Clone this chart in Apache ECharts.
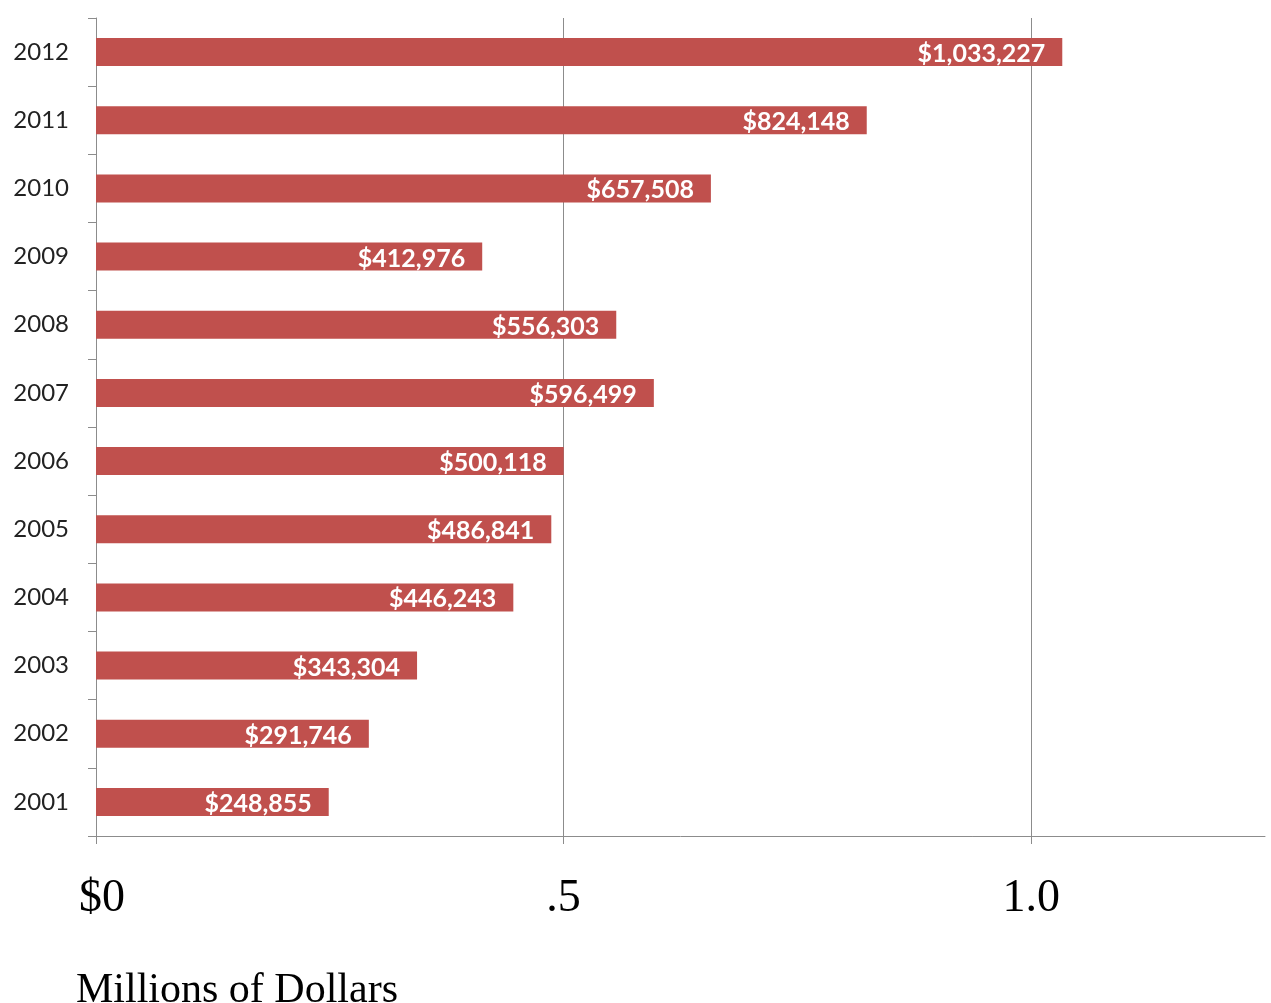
<!DOCTYPE html>
<html>
<head>
<meta charset="utf-8">
<script src="https://cdn.jsdelivr.net/npm/echarts@6/dist/echarts.min.js"></script>
<style>
html,body{margin:0;padding:0;background:#fff;}
#chart{width:1271px;height:1003px;}
</style>
</head>
<body>
<div id="chart"></div>
<script>
const years = ['2001','2002','2003','2004','2005','2006','2007','2008','2009','2010','2011','2012'];
const amounts = [248855, 291746, 343304, 446243, 486841, 500118, 596499, 556303, 412976, 657508, 824148, 1033227];
const tickValues = [0, 500000, 1000000];
const tickLabels = ['$0', '.5', '1.0'];
const axisTitle = 'Millions of Dollars';

const serif = '"Liberation Serif", "Times New Roman", serif';
const chart = echarts.init(document.getElementById('chart'));
chart.setOption({
  animation: false,
  backgroundColor: '#ffffff',
  grid: { left: 96, right: 6, top: 18, bottom: 167, containLabel: false },
  xAxis: {
    type: 'value',
    min: 0, max: 1250000, interval: 500000,
    axisLine: { show: true, lineStyle: { color: '#8c8c8c', width: 1 } },
    axisTick: { show: true, length: 8, lineStyle: { color: '#8c8c8c' }, customValues: tickValues },
    axisLabel: {
      customValues: tickValues,
      formatter: function (v) {
        const i = tickValues.indexOf(v);
        if (i < 0) return '';
        return i === 0 ? '{first|' + tickLabels[i] + '}' : tickLabels[i];
      },
      rich: { first: { fontFamily: serif, fontSize: 46, color: '#000', padding: [0, 0, 0, 12] } },
      fontFamily: serif,
      fontSize: 46, color: '#000', margin: 40
    },
    splitLine: { show: true, showMinLine: false, lineStyle: { color: '#8c8c8c', width: 1 } }
  },
  yAxis: {
    type: 'category',
    data: years,
    axisLine: { show: true, lineStyle: { color: '#8c8c8c', width: 1 } },
    axisTick: { show: true, length: 8, lineStyle: { color: '#8c8c8c' } },
    axisLabel: { fontFamily: 'Lato, "Liberation Sans", sans-serif', fontSize: 24, color: '#222', margin: 27 },
    splitLine: { show: false }
  },
  graphic: [{
    type: 'text', left: 76, top: 970,
    style: { text: axisTitle, font: '42px "Liberation Serif", "Times New Roman", serif', fill: '#000' }
  }],
  series: [{
    type: 'bar',
    data: amounts,
    barWidth: 28,
    itemStyle: { color: '#C0504D' },
    label: {
      show: true, position: 'insideRight', distance: 17, offset: [0, 2],
      formatter: function (p) { return '$' + p.value.toLocaleString('en-US'); },
      fontFamily: 'Lato, "Liberation Sans", sans-serif', fontWeight: 'bold', fontSize: 25, color: '#fff'
    }
  }]
});
</script>
</body>
</html>
